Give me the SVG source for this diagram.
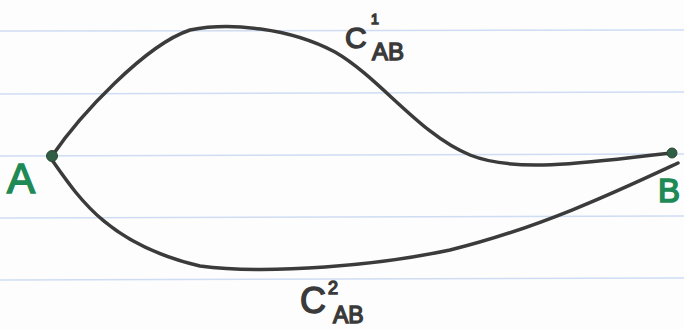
<svg xmlns="http://www.w3.org/2000/svg" width="684" height="329" viewBox="0 0 684 329">
<style>
.rule{stroke:#cfdcf3;stroke-width:1.5}
.curve{fill:none;stroke:#3b3b3b;stroke-width:3.5;stroke-linecap:round;stroke-linejoin:round}
.dot{fill:#2f5e44;stroke:#2a4a38;stroke-width:1}
.pt{font-family:"Liberation Sans",Arial,sans-serif;fill:#1f8a55;stroke:#1f8a55;stroke-width:1.6}
.lbl{font-family:"Liberation Sans",Arial,sans-serif;fill:#3a3a3a;stroke:#3a3a3a;stroke-width:1.4}
</style>
<rect width="684" height="329" fill="#fdfdfd"/>
<g id="paper">
<line class="rule" x1="0" y1="31" x2="684" y2="30"/>
<line class="rule" x1="0" y1="94" x2="684" y2="92"/>
<line class="rule" x1="0" y1="156" x2="684" y2="154"/>
<line class="rule" x1="0" y1="218" x2="684" y2="216"/>
<line class="rule" x1="0" y1="280" x2="684" y2="278"/>
</g>
<g id="connectors">
<path id="c1" class="curve" d="M52,156 C80,115 145,45 190,30 C230,22 290,28 335,52 C380,78 420,135 470,155 C520,175 600,160 672,153"/>
<path id="c2" class="curve" d="M52,160 C80,200 110,245 200,266 C270,275 380,265 450,250 C540,228 620,190 678,163"/>
</g>
<g id="A">
<circle class="dot" cx="52" cy="156" r="5.5"/>
<text class="pt" x="7" y="193" font-size="42">A</text>
</g>
<g id="B">
<circle class="dot" cx="672" cy="153" r="5"/>
<text class="pt" x="658" y="202" font-size="33">B</text>
</g>
<g id="label-c1">
<text class="lbl" x="345" y="48" font-size="30">C</text>
<text class="lbl" x="371" y="24" font-size="14">1</text>
<text class="lbl" x="372" y="60" font-size="24">AB</text>
</g>
<g id="label-c2">
<text class="lbl" x="300" y="313" font-size="36">C</text>
<text class="lbl" x="328" y="294" font-size="18">2</text>
<text class="lbl" x="333" y="323" font-size="23">AB</text>
</g>
</svg>
